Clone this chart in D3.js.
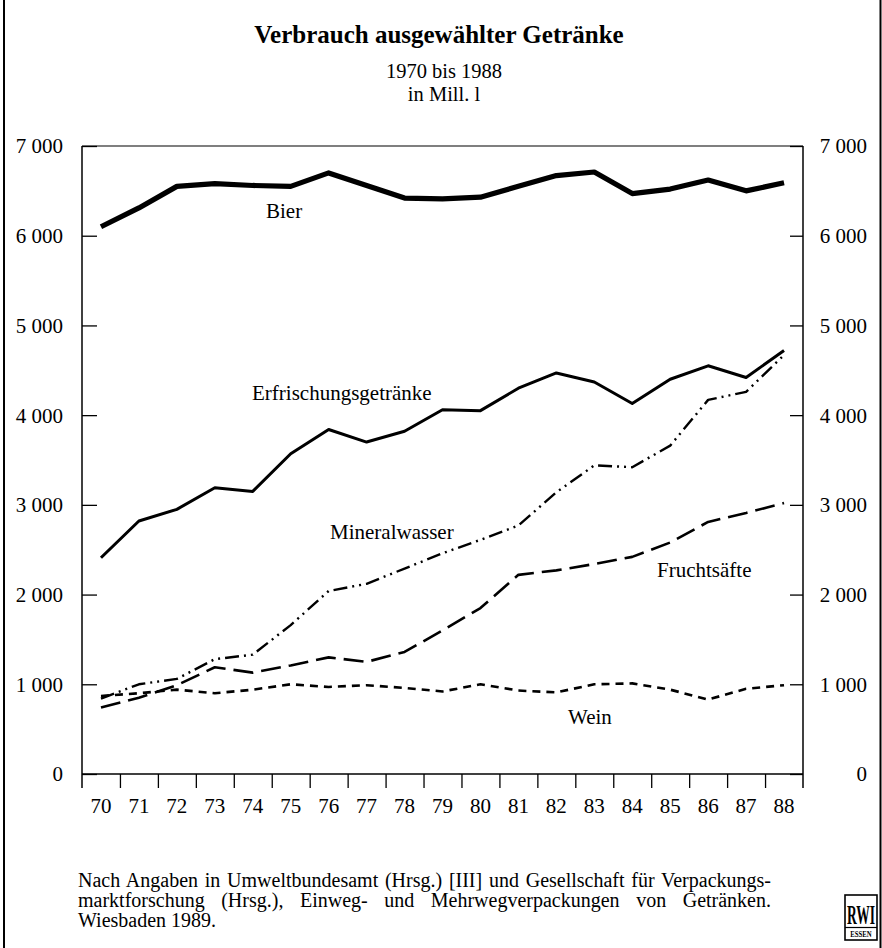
<!DOCTYPE html>
<html>
<head>
<meta charset="utf-8">
<script src="https://cdn.jsdelivr.net/npm/d3@7"></script>
<style>
  html, body { margin: 0; padding: 0; background: #fff; }
  svg { display: block; }
  text { font-family: "Liberation Serif", "Times New Roman", Times, serif; fill: #000; }
</style>
</head>
<body>
<svg id="chart" width="882" height="948"></svg>
<script>
// ---- data ----
const years = ["70","71","72","73","74","75","76","77","78","79","80","81","82","83","84","85","86","87","88"];
const bier = [6100,6310,6550,6580,6560,6550,6700,6560,6420,6410,6430,6550,6670,6710,6470,6520,6620,6500,6590];
const erfrischung = [2410,2820,2950,3190,3150,3570,3840,3700,3820,4060,4050,4300,4470,4370,4130,4400,4550,4420,4720];
const mineralwasser = [840,1000,1060,1280,1330,1660,2040,2120,2290,2460,2610,2770,3140,3440,3420,3660,4170,4260,4670];
const fruchtsaefte = [740,850,990,1190,1130,1210,1300,1250,1360,1600,1850,2220,2270,2340,2420,2580,2810,2910,3020];
const wein = [870,900,940,900,940,1000,970,990,960,920,1000,930,910,1000,1010,940,830,950,990];
const yTicks = [0,1000,2000,3000,4000,5000,6000,7000];
const title = "Verbrauch ausgewählter Getränke";
const subtitle = ["1970 bis 1988", "in Mill. l"];
const footer = [
  "Nach Angaben in Umweltbundesamt (Hrsg.) [III] und Gesellschaft für Verpackungs-",
  "marktforschung (Hrsg.), Einweg- und Mehrwegverpackungen von Getränken.",
  "Wiesbaden 1989."
];

const series = [
  {name: "Bier", values: bier, width: 5.2, dash: null, lx: 266, ly: 218},
  {name: "Erfrischungsgetränke", values: erfrischung, width: 3, dash: null, lx: 252, ly: 400},
  {name: "Mineralwasser", values: mineralwasser, width: 2.4, dash: "14,5,2,5,2,5", lx: 330, ly: 539},
  {name: "Fruchtsäfte", values: fruchtsaefte, width: 2.6, dash: "20,8", lx: 657, ly: 577},
  {name: "Wein", values: wein, width: 2.6, dash: "8,6", lx: 568, ly: 724}
];

// ---- layout ----
const L = 82, R = 803, T = 146, B = 774, tickDown = 14;
const svg = d3.select("#chart");

const x = d3.scaleBand().domain(years).range([L, R]).padding(0);
const xIdx = d3.scaleLinear().domain([0, years.length]).range([L, R]);
const y = d3.scaleLinear().domain([0, 7000]).range([B, T]);

const fmt = d3.formatLocale({decimal: ",", thousands: " ", grouping: [3], currency: ["", ""]}).format(",");

// outer frame lines
svg.append("line").attr("x1", 4).attr("x2", 4).attr("y1", 0).attr("y2", 948)
  .attr("stroke", "#000").attr("stroke-width", 2);
svg.append("line").attr("x1", 880.5).attr("x2", 880.5).attr("y1", 0).attr("y2", 948)
  .attr("stroke", "#000").attr("stroke-width", 2);

// title
svg.append("text").attr("x", 439).attr("y", 43).attr("text-anchor", "middle")
  .style("font-size", "25px").style("font-weight", "bold").text(title);
subtitle.forEach((s, i) => {
  svg.append("text").attr("x", 444).attr("y", 78 + i * 22.5).attr("text-anchor", "middle")
    .style("font-size", "20.5px").text(s);
});

// frame of plot
const frame = svg.append("g").attr("stroke", "#000").attr("stroke-width", 1.5).attr("fill", "none");
frame.append("line").attr("x1", L).attr("x2", R).attr("y1", T).attr("y2", T).attr("stroke-width", 1.2);
frame.append("line").attr("x1", L).attr("x2", R).attr("y1", B).attr("y2", B);
frame.append("line").attr("x1", L).attr("x2", L).attr("y1", T).attr("y2", B + tickDown);
frame.append("line").attr("x1", R).attr("x2", R).attr("y1", T).attr("y2", B + tickDown);

// y axis left
const yl = svg.append("g").attr("transform", `translate(${L},0)`)
  .call(d3.axisLeft(y).tickValues(yTicks).tickFormat(fmt).tickSize(-15).tickPadding(19));
yl.select(".domain").remove();
yl.selectAll(".tick line").attr("stroke", "#000").attr("stroke-width", 1.3);
yl.selectAll(".tick text").style("font-size", "21px").attr("dy", "0.33em")
  .style("font-family", '"Liberation Serif", "Times New Roman", serif');

// y axis right (labels right-aligned)
const yr = svg.append("g").attr("transform", `translate(${R},0)`)
  .call(d3.axisRight(y).tickValues(yTicks).tickFormat(fmt).tickSize(-13).tickPadding(64));
yr.select(".domain").remove();
yr.selectAll(".tick line").attr("stroke", "#000").attr("stroke-width", 1.3);
yr.selectAll(".tick text").style("font-size", "21px").attr("dy", "0.33em").attr("text-anchor", "end")
  .style("font-family", '"Liberation Serif", "Times New Roman", serif');

// x axis ticks between years
const xt = svg.append("g").attr("transform", `translate(0,${B})`)
  .call(d3.axisBottom(xIdx).tickValues(d3.range(1, years.length)).tickFormat("").tickSize(tickDown));
xt.select(".domain").remove();
xt.selectAll(".tick line").attr("stroke", "#000").attr("stroke-width", 1.3);

// x axis labels
const xl = svg.append("g").attr("transform", `translate(0,${B})`)
  .call(d3.axisBottom(x).tickSize(0).tickPadding(24));
xl.select(".domain").remove();
xl.selectAll(".tick text").style("font-size", "21px").attr("dy", "0.71em")
  .style("font-family", '"Liberation Serif", "Times New Roman", serif');

// lines
const line = d3.line().x((d, i) => x(years[i]) + x.bandwidth() / 2).y(d => y(d));
series.forEach(s => {
  svg.append("path").datum(s.values)
    .attr("d", line)
    .attr("fill", "none")
    .attr("stroke", "#000")
    .attr("stroke-width", s.width)
    .attr("stroke-linejoin", "round")
    .attr("stroke-dasharray", s.dash);
  svg.append("text").attr("x", s.lx).attr("y", s.ly).style("font-size", "21px").text(s.name);
});

// footer (justified lines 1 and 2)
const fx = 78, fw = 693;
footer.forEach((t, i) => {
  const tx = svg.append("text").attr("x", fx).attr("y", 887 + i * 20)
    .style("font-size", "20px").text(t);
  if (i < footer.length - 1) {
    const nat = tx.node().getComputedTextLength();
    const spaces = (t.match(/ /g) || []).length;
    tx.attr("word-spacing", ((fw - nat) / spaces).toFixed(2));
  }
});

// RWI logo
const logo = svg.append("g");
logo.append("rect").attr("x", 845).attr("y", 895).attr("width", 32).attr("height", 45)
  .attr("fill", "none").attr("stroke", "#000").attr("stroke-width", 1.6);
logo.append("text").attr("transform", "translate(861,924) scale(0.5,1)").attr("text-anchor", "middle")
  .style("font-size", "27px").style("font-weight", "bold").text("RWI");
logo.append("line").attr("x1", 845).attr("x2", 877).attr("y1", 927.5).attr("y2", 927.5)
  .attr("stroke", "#000").attr("stroke-width", 1.2);
logo.append("text").attr("transform", "translate(861,937) scale(0.85,1)").attr("text-anchor", "middle")
  .style("font-size", "8px").style("font-weight", "bold").text("ESSEN");
</script>
</body>
</html>
